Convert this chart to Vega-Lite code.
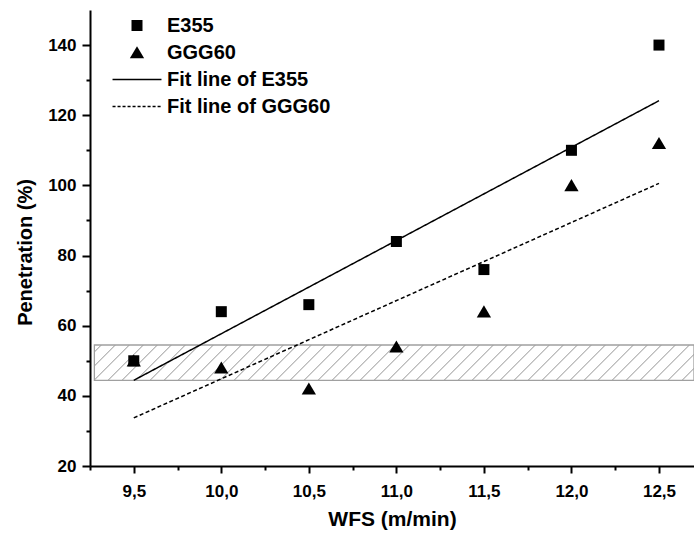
{
  "$schema": "https://vega.github.io/schema/vega-lite/v6.json",
  "autosize": {"type": "none"},
  "width": 604,
  "height": 456,
  "padding": {"left": 90, "top": 10, "right": 0, "bottom": 72},
  "background": "white",
  "data": {
    "values": [
      {"series": "GGG60", "wfs": 9.5, "pen": 50},
      {"series": "GGG60", "wfs": 10.0, "pen": 48},
      {"series": "GGG60", "wfs": 10.5, "pen": 42},
      {"series": "GGG60", "wfs": 11.0, "pen": 54},
      {"series": "GGG60", "wfs": 11.5, "pen": 64},
      {"series": "GGG60", "wfs": 12.0, "pen": 100},
      {"series": "GGG60", "wfs": 12.5, "pen": 112},
      {"series": "E355", "wfs": 9.5, "pen": 50},
      {"series": "E355", "wfs": 10.0, "pen": 64},
      {"series": "E355", "wfs": 10.5, "pen": 66},
      {"series": "E355", "wfs": 11.0, "pen": 84},
      {"series": "E355", "wfs": 11.5, "pen": 76},
      {"series": "E355", "wfs": 12.0, "pen": 110},
      {"series": "E355", "wfs": 12.5, "pen": 140}
    ]
  },
  "encoding": {
    "x": {
      "field": "wfs",
      "type": "quantitative",
      "scale": {"domain": [9.25, 12.7], "nice": false, "zero": false},
      "axis": {
        "title": "WFS (m/min)",
        "values": [9.25, 9.5, 9.75, 10, 10.25, 10.5, 10.75, 11, 11.25, 11.5, 11.75, 12, 12.25, 12.5],
        "labelExpr": "datum.value * 2 == round(datum.value * 2) ? replace(format(datum.value, '.1f'), '.', ',') : ''",
        "tickSize": {"condition": {"test": "datum.value * 2 == round(datum.value * 2)", "value": 7}, "value": 4},
        "labelPadding": 10,
        "labelOverlap": false,
        "labelFlush": false,
        "titlePadding": 9,
        "titleFontSize": 21
      }
    },
    "y": {
      "field": "pen",
      "type": "quantitative",
      "scale": {"domain": [20, 150], "nice": false, "zero": false},
      "axis": {
        "title": "Penetration (%)",
        "values": [20, 30, 40, 50, 60, 70, 80, 90, 100, 110, 120, 130, 140],
        "labelExpr": "datum.value % 20 == 0 ? datum.label : ''",
        "tickSize": {"condition": {"test": "datum.value % 20 == 0", "value": 8}, "value": 4},
        "labelPadding": 6,
        "labelOverlap": false,
        "labelFlush": false,
        "titleX": -55,
        "titleY": 242
      }
    }
  },
  "layer": [
    {
      "data": {"values": [{"wfs": 9.275, "wfs2": 12.7, "pen": 44.4, "pen2": 54.5}]},
      "mark": {
        "type": "rect",
        "stroke": "#a0a0a0",
        "strokeWidth": 1.3,
        "fill": {
          "gradient": "linear",
          "x1": 0, "y1": 0, "x2": 1.1634, "y2": 0.0687,
          "stops": [
            {"offset": 0, "color": "#ffffff"},
            {"offset": 0.0086, "color": "#ffffff"}, {"offset": 0.01, "color": "#909090"}, {"offset": 0.0114, "color": "#ffffff"},
            {"offset": 0.0286, "color": "#ffffff"}, {"offset": 0.03, "color": "#909090"}, {"offset": 0.0314, "color": "#ffffff"},
            {"offset": 0.0486, "color": "#ffffff"}, {"offset": 0.05, "color": "#909090"}, {"offset": 0.0514, "color": "#ffffff"},
            {"offset": 0.0686, "color": "#ffffff"}, {"offset": 0.07, "color": "#909090"}, {"offset": 0.0714, "color": "#ffffff"},
            {"offset": 0.0886, "color": "#ffffff"}, {"offset": 0.09, "color": "#909090"}, {"offset": 0.0914, "color": "#ffffff"},
            {"offset": 0.1086, "color": "#ffffff"}, {"offset": 0.11, "color": "#909090"}, {"offset": 0.1114, "color": "#ffffff"},
            {"offset": 0.1286, "color": "#ffffff"}, {"offset": 0.13, "color": "#909090"}, {"offset": 0.1314, "color": "#ffffff"},
            {"offset": 0.1486, "color": "#ffffff"}, {"offset": 0.15, "color": "#909090"}, {"offset": 0.1514, "color": "#ffffff"},
            {"offset": 0.1686, "color": "#ffffff"}, {"offset": 0.17, "color": "#909090"}, {"offset": 0.1714, "color": "#ffffff"},
            {"offset": 0.1886, "color": "#ffffff"}, {"offset": 0.19, "color": "#909090"}, {"offset": 0.1914, "color": "#ffffff"},
            {"offset": 0.2086, "color": "#ffffff"}, {"offset": 0.21, "color": "#909090"}, {"offset": 0.2114, "color": "#ffffff"},
            {"offset": 0.2286, "color": "#ffffff"}, {"offset": 0.23, "color": "#909090"}, {"offset": 0.2314, "color": "#ffffff"},
            {"offset": 0.2486, "color": "#ffffff"}, {"offset": 0.25, "color": "#909090"}, {"offset": 0.2514, "color": "#ffffff"},
            {"offset": 0.2686, "color": "#ffffff"}, {"offset": 0.27, "color": "#909090"}, {"offset": 0.2714, "color": "#ffffff"},
            {"offset": 0.2886, "color": "#ffffff"}, {"offset": 0.29, "color": "#909090"}, {"offset": 0.2914, "color": "#ffffff"},
            {"offset": 0.3086, "color": "#ffffff"}, {"offset": 0.31, "color": "#909090"}, {"offset": 0.3114, "color": "#ffffff"},
            {"offset": 0.3286, "color": "#ffffff"}, {"offset": 0.33, "color": "#909090"}, {"offset": 0.3314, "color": "#ffffff"},
            {"offset": 0.3486, "color": "#ffffff"}, {"offset": 0.35, "color": "#909090"}, {"offset": 0.3514, "color": "#ffffff"},
            {"offset": 0.3686, "color": "#ffffff"}, {"offset": 0.37, "color": "#909090"}, {"offset": 0.3714, "color": "#ffffff"},
            {"offset": 0.3886, "color": "#ffffff"}, {"offset": 0.39, "color": "#909090"}, {"offset": 0.3914, "color": "#ffffff"},
            {"offset": 0.4086, "color": "#ffffff"}, {"offset": 0.41, "color": "#909090"}, {"offset": 0.4114, "color": "#ffffff"},
            {"offset": 0.4286, "color": "#ffffff"}, {"offset": 0.43, "color": "#909090"}, {"offset": 0.4314, "color": "#ffffff"},
            {"offset": 0.4486, "color": "#ffffff"}, {"offset": 0.45, "color": "#909090"}, {"offset": 0.4514, "color": "#ffffff"},
            {"offset": 0.4686, "color": "#ffffff"}, {"offset": 0.47, "color": "#909090"}, {"offset": 0.4714, "color": "#ffffff"},
            {"offset": 0.4886, "color": "#ffffff"}, {"offset": 0.49, "color": "#909090"}, {"offset": 0.4914, "color": "#ffffff"},
            {"offset": 0.5086, "color": "#ffffff"}, {"offset": 0.51, "color": "#909090"}, {"offset": 0.5114, "color": "#ffffff"},
            {"offset": 0.5286, "color": "#ffffff"}, {"offset": 0.53, "color": "#909090"}, {"offset": 0.5314, "color": "#ffffff"},
            {"offset": 0.5486, "color": "#ffffff"}, {"offset": 0.55, "color": "#909090"}, {"offset": 0.5514, "color": "#ffffff"},
            {"offset": 0.5686, "color": "#ffffff"}, {"offset": 0.57, "color": "#909090"}, {"offset": 0.5714, "color": "#ffffff"},
            {"offset": 0.5886, "color": "#ffffff"}, {"offset": 0.59, "color": "#909090"}, {"offset": 0.5914, "color": "#ffffff"},
            {"offset": 0.6086, "color": "#ffffff"}, {"offset": 0.61, "color": "#909090"}, {"offset": 0.6114, "color": "#ffffff"},
            {"offset": 0.6286, "color": "#ffffff"}, {"offset": 0.63, "color": "#909090"}, {"offset": 0.6314, "color": "#ffffff"},
            {"offset": 0.6486, "color": "#ffffff"}, {"offset": 0.65, "color": "#909090"}, {"offset": 0.6514, "color": "#ffffff"},
            {"offset": 0.6686, "color": "#ffffff"}, {"offset": 0.67, "color": "#909090"}, {"offset": 0.6714, "color": "#ffffff"},
            {"offset": 0.6886, "color": "#ffffff"}, {"offset": 0.69, "color": "#909090"}, {"offset": 0.6914, "color": "#ffffff"},
            {"offset": 0.7086, "color": "#ffffff"}, {"offset": 0.71, "color": "#909090"}, {"offset": 0.7114, "color": "#ffffff"},
            {"offset": 0.7286, "color": "#ffffff"}, {"offset": 0.73, "color": "#909090"}, {"offset": 0.7314, "color": "#ffffff"},
            {"offset": 0.7486, "color": "#ffffff"}, {"offset": 0.75, "color": "#909090"}, {"offset": 0.7514, "color": "#ffffff"},
            {"offset": 0.7686, "color": "#ffffff"}, {"offset": 0.77, "color": "#909090"}, {"offset": 0.7714, "color": "#ffffff"},
            {"offset": 0.7886, "color": "#ffffff"}, {"offset": 0.79, "color": "#909090"}, {"offset": 0.7914, "color": "#ffffff"},
            {"offset": 0.8086, "color": "#ffffff"}, {"offset": 0.81, "color": "#909090"}, {"offset": 0.8114, "color": "#ffffff"},
            {"offset": 0.8286, "color": "#ffffff"}, {"offset": 0.83, "color": "#909090"}, {"offset": 0.8314, "color": "#ffffff"},
            {"offset": 0.8486, "color": "#ffffff"}, {"offset": 0.85, "color": "#909090"}, {"offset": 0.8514, "color": "#ffffff"},
            {"offset": 0.8686, "color": "#ffffff"}, {"offset": 0.87, "color": "#909090"}, {"offset": 0.8714, "color": "#ffffff"},
            {"offset": 0.8886, "color": "#ffffff"}, {"offset": 0.89, "color": "#909090"}, {"offset": 0.8914, "color": "#ffffff"},
            {"offset": 0.9086, "color": "#ffffff"}, {"offset": 0.91, "color": "#909090"}, {"offset": 0.9114, "color": "#ffffff"},
            {"offset": 1, "color": "#ffffff"}
          ]
        }
      },
      "encoding": {
        "x2": {"field": "wfs2"},
        "y2": {"field": "pen2"}
      }
    },
    {
      "transform": [{"regression": "pen", "on": "wfs", "groupby": ["series"]}],
      "mark": {"type": "line", "color": "black", "strokeWidth": 1.5},
      "encoding": {
        "strokeDash": {
          "field": "series",
          "type": "nominal",
          "scale": {"domain": ["E355", "GGG60"], "range": [[1, 0], [4, 2.5]]},
          "legend": null
        }
      }
    },
    {
      "mark": {"type": "point", "filled": true, "size": 121, "color": "black", "strokeWidth": 0, "opacity": 1},
      "encoding": {
        "shape": {
          "field": "series",
          "type": "nominal",
          "scale": {
            "domain": ["E355", "GGG60", "Fit line of E355", "Fit line of GGG60"],
            "range": [
              "M-1,-1H1V1H-1Z",
              "M0,-1.15L1.3,1.05L-1.3,1.05Z",
              "M-4.45,-0.12H4.45V0.12H-4.45Z",
              "M-4.45,-0.12H-3.9V0.12H-4.45ZM-3.54,-0.12H-2.99V0.12H-3.54ZM-2.63,-0.12H-2.08V0.12H-2.63ZM-1.72,-0.12H-1.17V0.12H-1.72ZM-0.81,-0.12H-0.26V0.12H-0.81ZM0.1,-0.12H0.65V0.12H0.1ZM1.01,-0.12H1.56V0.12H1.01ZM1.92,-0.12H2.47V0.12H1.92ZM2.83,-0.12H3.38V0.12H2.83ZM3.74,-0.12H4.29V0.12H3.74Z"
            ]
          },
          "legend": {
            "orient": "none",
            "legendX": 37,
            "legendY": 5.5,
            "title": null,
            "labelLimit": 400,
            "encode": {
              "symbols": {
                "fill": {"value": "black"},
                "strokeWidth": {"value": 0},
                "opacity": {"value": 1}
              }
            }
          }
        }
      }
    }
  ],
  "config": {
    "view": {"stroke": null},
    "axis": {
      "grid": false,
      "domainColor": "black",
      "domainWidth": 2,
      "tickColor": "black",
      "tickWidth": 2,
      "labelFont": "Liberation Sans",
      "labelFontWeight": "bold",
      "labelFontSize": 17,
      "labelColor": "black",
      "titleFont": "Liberation Sans",
      "titleFontWeight": "bold",
      "titleFontSize": 20,
      "titleColor": "black"
    },
    "legend": {
      "padding": 0,
      "labelFont": "Liberation Sans",
      "labelFontWeight": "bold",
      "labelFontSize": 20,
      "labelColor": "black",
      "labelOffset": 20,
      "labelLimit": 400,
      "rowPadding": 7,
      "symbolSize": 121,
      "symbolFillColor": "black",
      "symbolStrokeWidth": 0,
      "symbolOpacity": 1
    }
  }
}
